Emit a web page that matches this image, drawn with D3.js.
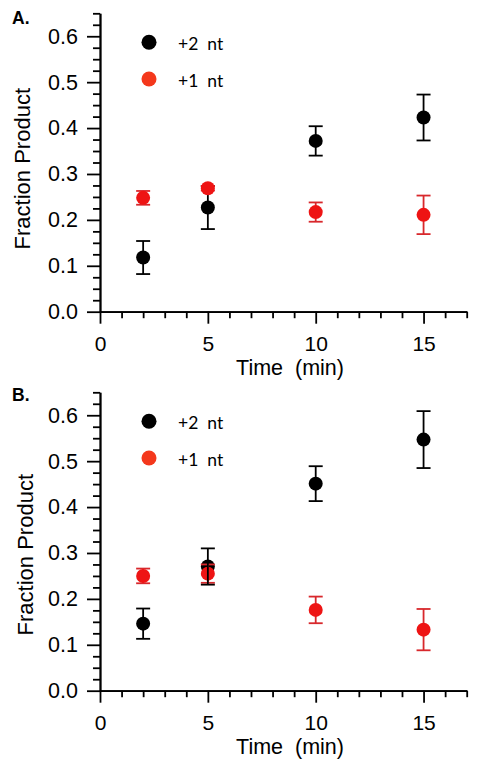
<!DOCTYPE html>
<html><head><meta charset="utf-8">
<script src="https://cdn.jsdelivr.net/npm/d3@7"></script>
<style>body{margin:0;background:#fff}svg{display:block}</style>
</head><body>
<script>
// ---- data ----
const times = [2, 5, 10, 15];
const panelLabels = ["A.", "B."];
const seriesNames = ["+2 nt", "+1 nt"];
const xTicks = [0, 5, 10, 15];
const yTicks = [0.0, 0.1, 0.2, 0.3, 0.4, 0.5, 0.6];
const a_plus2 = [0.118, 0.227, 0.372, 0.423];
const a_plus2_err = [0.036, 0.047, 0.032, 0.050];
const a_plus1 = [0.248, 0.269, 0.217, 0.211];
const a_plus1_err = [0.015, 0.005, 0.021, 0.042];
const b_plus2 = [0.146, 0.2705, 0.451, 0.547];
const b_plus2_err = [0.033, 0.0395, 0.038, 0.062];
const b_plus1 = [0.250, 0.255, 0.176, 0.133];
const b_plus1_err = [0.016, 0.020, 0.029, 0.045];

const W = 478, H = 768;
const svg = d3.select("body").append("svg").attr("width", W).attr("height", H);

const panels = [
  {label: panelLabels[0], top: 13.3, s2: a_plus2, e2: a_plus2_err, s1: a_plus1, e1: a_plus1_err, labY: 24, ylabX: 21.5, ylabOff: 143, blackBarsOnTop: false},
  {label: panelLabels[1], top: 392.3, s2: b_plus2, e2: b_plus2_err, s1: b_plus1, e1: b_plus1_err, labY: 401, ylabX: 24.5, ylabOff: 136, blackBarsOnTop: true}
];

const FONT = "Liberation Sans, Arial, sans-serif";
const left = 100, right = 466.7, plotH = 298.4;
const x = d3.scaleLinear().domain([0, 17]).range([left, right]);
const black = "#000", red = "#ee1414", redBar = "#d8282c", legendRed = "#f4381c";

panels.forEach(p => {
  const y = d3.scaleLinear().domain([0, 0.65]).range([p.top + plotH, p.top]);
  const g = svg.append("g");
  const y0 = y(0);

  // y axis: minor then major ticks
  const yMinor = d3.range(0, 0.651, 0.025).filter(v => Math.abs(v*10 - Math.round(v*10)) > 1e-6);
  g.append("g").attr("transform", `translate(${left},0)`)
    .call(d3.axisLeft(y).tickValues(yMinor).tickSize(7).tickSizeOuter(0).tickFormat(""))
    .call(s => s.selectAll("line,path").attr("stroke", "#000").attr("stroke-width", 1.8));
  g.append("g").attr("transform", `translate(${left},0)`)
    .call(d3.axisLeft(y).tickValues(yTicks).tickSize(13).tickSizeOuter(0).tickPadding(9).tickFormat(d3.format(".1f")))
    .call(s => s.selectAll("line,path").attr("stroke", "#000").attr("stroke-width", 1.8))
    .call(s => s.selectAll("text").attr("font-family", FONT).attr("font-size", 21.5).attr("fill", "#000"));

  // x axis: minor then major ticks
  const xMinor = d3.range(0, 18, 1).filter(v => v % 5 !== 0);
  g.append("g").attr("transform", `translate(0,${y0})`)
    .call(d3.axisBottom(x).tickValues(xMinor).tickSize(6.5).tickSizeOuter(0).tickFormat(""))
    .call(s => s.selectAll("line,path").attr("stroke", "#000").attr("stroke-width", 1.8));
  g.append("g").attr("transform", `translate(0,${y0})`)
    .call(d3.axisBottom(x).tickValues(xTicks).tickSize(12).tickSizeOuter(0).tickPadding(12).tickFormat(d3.format("d")))
    .call(s => s.selectAll("line,path").attr("stroke", "#000").attr("stroke-width", 1.8))
    .call(s => s.selectAll("text").attr("font-family", FONT).attr("font-size", 21).attr("fill", "#000"));

  // axis titles
  g.append("text").attr("x", 290).attr("y", y0 + 63.5)
    .attr("text-anchor", "middle").attr("font-family", FONT).attr("font-size", 21.5)
    .attr("xml:space", "preserve").text("Time  (min)");
  g.append("text").attr("transform", `translate(${p.ylabX + 8},${y0 - p.ylabOff}) rotate(-90)`)
    .attr("text-anchor", "middle").attr("font-family", FONT).attr("font-size", 22)
    .text("Fraction Product");

  // panel label
  g.append("text").attr("x", 12).attr("y", p.labY).attr("font-family", FONT)
    .attr("font-weight", "bold").attr("font-size", 17.5).text(p.label);

  // series helpers
  const rows = (vals, errs) => times.map((t, i) => ({t, v: vals[i], e: errs[i]}));
  const drawBars = (d, barColor) => {
    const eb = g.append("g").attr("stroke", barColor).attr("stroke-width", 1.8);
    d.forEach(r => {
      eb.append("line").attr("x1", x(r.t)).attr("x2", x(r.t)).attr("y1", y(r.v - r.e)).attr("y2", y(r.v + r.e));
      [r.v - r.e, r.v + r.e].forEach(v => eb.append("line").attr("x1", x(r.t) - 7).attr("x2", x(r.t) + 7).attr("y1", y(v)).attr("y2", y(v)));
    });
  };
  const drawPoints = (d, fill) => {
    g.append("g").selectAll("circle").data(d).join("circle")
      .attr("cx", r => x(r.t)).attr("cy", r => y(r.v)).attr("r", 7).attr("fill", fill);
  };
  const d2 = rows(p.s2, p.e2), d1 = rows(p.s1, p.e1);
  if (!p.blackBarsOnTop) drawBars(d2, black);
  drawPoints(d2, black);
  drawBars(d1, redBar);
  drawPoints(d1, red);
  if (p.blackBarsOnTop) drawBars(d2, black);

  // legend
  const lg = g.append("g");
  [black, legendRed].forEach((c, i) => {
    lg.append("circle").attr("cx", 149).attr("cy", p.top + (i === 0 ? 29 : 65.7)).attr("r", 7.5).attr("fill", c);
    lg.append("text").attr("x", 178).attr("y", p.top + (i === 0 ? 36.5 : 73.2))
      .attr("font-family", "Lato, 'Open Sans', sans-serif").attr("font-size", 17.5)
      .attr("xml:space", "preserve").text(seriesNames[i].replace(" ", "  "));
  });
});
</script>
</body></html>
